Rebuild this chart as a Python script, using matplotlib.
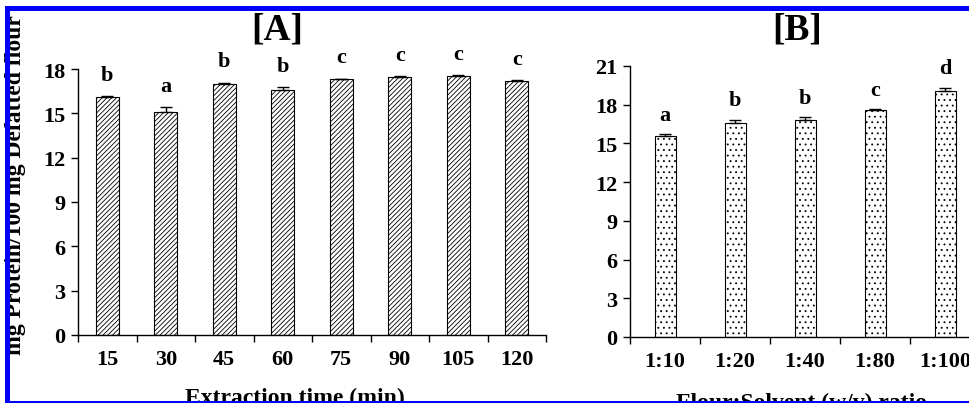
import matplotlib
matplotlib.use("Agg")
import matplotlib.pyplot as plt
from matplotlib.patches import Rectangle

# Data
time_labels = ["15", "30", "45", "60", "75", "90", "105", "120"]
time_values = [16.1, 15.1, 17.0, 16.6, 17.3, 17.45, 17.5, 17.2]
time_errors = [0.05, 0.35, 0.08, 0.2, 0.05, 0.05, 0.08, 0.08]
time_letters = ["b", "a", "b", "b", "c", "c", "c", "c"]

ratio_labels = ["1:10", "1:20", "1:40", "1:80", "1:100"]
ratio_values = [15.6, 16.6, 16.8, 17.6, 19.1]
ratio_errors = [0.1, 0.2, 0.22, 0.05, 0.2]
ratio_letters = ["a", "b", "b", "c", "d"]

W, H = 969, 406
plt.rcParams['font.family'] = ['Liberation Serif', 'DejaVu Serif']
plt.rcParams['font.weight'] = 'bold'
plt.rcParams['hatch.linewidth'] = 0.6
plt.rcParams['hatch.color'] = '#333333'

fig = plt.figure(figsize=(W / 100, H / 100), dpi=100)


def px_axes(left, right, top, bottom):
    return fig.add_axes([left / W, 1 - bottom / H, (right - left) / W, (bottom - top) / H])


def style_panel(ax, labels, ymax, step):
    n = len(labels)
    ax.set_xlim(-0.5, n - 0.5)
    ax.set_ylim(0, ymax)
    for s in ["top", "right"]:
        ax.spines[s].set_visible(False)
    ax.spines["left"].set_linewidth(1.0)
    ax.spines["bottom"].set_linewidth(1.0)
    ax.set_xticks(range(n))
    ax.set_xticklabels(labels, fontsize=16, fontweight='bold')
    ax.set_xticks([i - 0.5 for i in range(n + 1)], minor=True)
    ax.tick_params(axis='x', which='major', length=0, pad=10)
    ax.tick_params(axis='x', which='minor', length=5, width=1, direction='out')
    ax.set_yticks(range(0, ymax + 1, step))
    ax.tick_params(axis='y', length=5, width=1, direction='out', labelsize=16, pad=4)
    for t in ax.get_yticklabels():
        t.set_fontweight('bold')


# Panel A
axA = px_axes(78, 546, 70, 336)
xA = range(len(time_values))
axA.bar(xA, time_values, width=0.4, color='white', edgecolor='black',
        linewidth=0.8, hatch='///////', zorder=2)
axA.errorbar(xA, time_values, yerr=[[0] * len(time_errors), time_errors],
             fmt='none', ecolor='black', elinewidth=1, capsize=4, zorder=3)
for i, (v, e, l) in enumerate(zip(time_values, time_errors, time_letters)):
    axA.annotate(l, (i, v + e), xytext=(0, 8), textcoords='offset points',
                 ha='center', va='bottom', fontsize=16, fontweight='bold',
                 annotation_clip=False)
style_panel(axA, time_labels, 18, 3)
axA.set_ylabel("mg Protein/100 mg Defatted flour", fontsize=17, fontweight='bold')
axA.yaxis.set_label_coords(-52 / 468, 0.568)
fig.text(277 / W, 1 - 30 / H, "[A]", ha='center', va='center', fontsize=27, fontweight='bold')
fig.text(295 / W, 1 - 404 / H, "Extraction time (min)", ha='center', va='baseline',
         fontsize=17, fontweight='bold')

# Panel B
axB = px_axes(630, 980, 67, 338)
xB = range(len(ratio_values))
axB.bar(xB, ratio_values, width=0.3, color='white', edgecolor='black',
        linewidth=0.8, hatch='...', zorder=2)
axB.errorbar(xB, ratio_values, yerr=[[0] * len(ratio_errors), ratio_errors],
             fmt='none', ecolor='black', elinewidth=1, capsize=4, zorder=3)
for i, (v, e, l) in enumerate(zip(ratio_values, ratio_errors, ratio_letters)):
    axB.annotate(l, (i, v + e), xytext=(0, 7), textcoords='offset points',
                 ha='center', va='bottom', fontsize=16, fontweight='bold',
                 annotation_clip=False)
style_panel(axB, ratio_labels, 21, 3)
fig.text(797 / W, 1 - 30 / H, "[B]", ha='center', va='center', fontsize=27, fontweight='bold')
fig.text(802 / W, 1 - 409 / H, "Flour:Solvent (w/v) ratio", ha='center', va='baseline',
         fontsize=17, fontweight='bold')

# blue frame (covers the cut-off bottom text)
blue = '#0000ff'
fig.add_artist(Rectangle((0, 0), 1, 4 / H, transform=fig.transFigure,
                         facecolor='white', edgecolor='none', zorder=10))
fig.add_artist(Rectangle((5 / W, 2 / H), 1, 2.5 / H, transform=fig.transFigure,
                         facecolor=blue, edgecolor='none', zorder=11))
fig.add_artist(Rectangle((5 / W, 1 - 12 / H), 1, 5 / H, transform=fig.transFigure,
                         facecolor=blue, edgecolor='none', zorder=11))
fig.add_artist(Rectangle((5 / W, 2 / H), 5 / W, 1 - 9 / H, transform=fig.transFigure,
                         facecolor=blue, edgecolor='none', zorder=11))

fig.savefig("out.png", dpi=100)
